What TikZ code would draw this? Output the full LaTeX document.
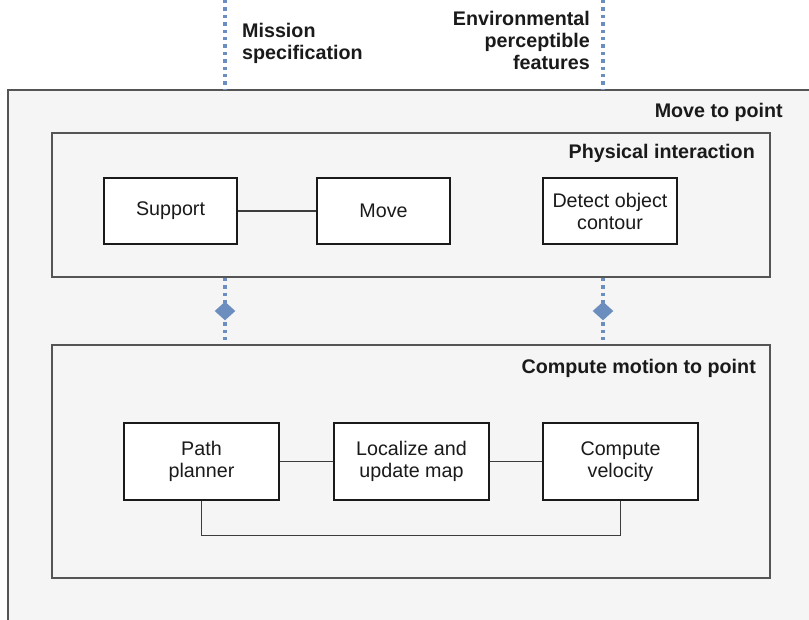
\documentclass[tikz,border=0pt]{standalone}
\usepackage{fontspec}
\setmainfont{Liberation Sans}
\usepackage{tikz}
\usetikzlibrary{positioning,shapes.geometric}

\definecolor{framegray}{HTML}{555555}
\definecolor{framefill}{HTML}{F5F5F5}
\definecolor{portblue}{HTML}{6C8EBF}
\definecolor{inkgray}{HTML}{1A1A1A}

\tikzset{
    layer/.style={draw=framegray,fill=framefill,line width=1.6pt,inner sep=0},
    task/.style={draw=inkgray,fill=white,line width=1.2pt,align=center,inner sep=0,
        text=inkgray},
    title/.style={font=\fontsize{19.7}{22}\selectfont\bfseries,anchor=east,inner sep=0,
        text=inkgray},
    link/.style={draw=inkgray!85,line width=1.2pt},
    portline/.style={draw=portblue,line width=3.4pt,dash pattern=on 3.4pt off 4pt},
    portmark/.style={diamond,fill=portblue,inner sep=0,minimum width=22pt,
        minimum height=20pt},
}

\begin{document}
\begin{tikzpicture}[x=1pt,y=-1pt,every node/.style={font=\fontsize{19.7}{22}\selectfont}]
    \useasboundingbox (0,0) rectangle (809,619);
    \clip (0,0) rectangle (809,619);
    \fill[white] (0,0) rectangle (809,619);

    \node[layer,minimum width=822pt,minimum height=550pt](movept) at (419,365) {};
    \node[layer,minimum width=718pt,minimum height=144pt](phys) at (411,205) {};
    \node[layer,minimum width=718pt,minimum height=233pt](cmp) at (411,461.5) {};

    \node[title](moveptt) at (783,112) {Move to point};
    \node[title](physt) at (755,153) {Physical interaction};
    \node[title](cmpt) at (756,368) {Compute motion to point};

    \node[task,minimum width=133pt,minimum height=66pt](support) at (170.5,211) {Support};
    \node[task,minimum width=133pt,minimum height=66pt](move) at (383.5,211) {Move};
    \node[task,minimum width=134pt,minimum height=66pt](detect) at (610,211)
        {Detect object\\contour};

    \node[task,minimum width=155pt,minimum height=77pt](path) at (201.5,461.5)
        {Path\\planner};
    \node[task,minimum width=155pt,minimum height=77pt](localize) at (411.5,461.5)
        {Localize and\\update map};
    \node[task,minimum width=155pt,minimum height=77pt](velocity) at (620.5,461.5)
        {Compute\\velocity};

    \draw[link] (support) -- (move);
    \draw[link] (path) -- (localize);
    \draw[link] (localize) -- (velocity);
    \draw[link] (path.south) -- ++(0,35) -| (velocity.south);

    \coordinate (mission) at (225,0);
    \coordinate (env) at (603,0);
    \draw[portline] (mission) -- (mission |- movept.north);
    \draw[portline] (env) -- (env |- movept.north);
    \draw[portline] (phys.south -| mission) -- (cmp.north -| mission)
        node[portmark,midway](missionport){};
    \draw[portline] (phys.south -| env) -- (cmp.north -| env)
        node[portmark,midway](envport){};

    \node[anchor=west,align=left,inner sep=0,text=inkgray,font=\fontsize{19.7}{22}\selectfont\bfseries]
        (missiont) at (242,43) {Mission\\specification};
    \node[anchor=east,align=right,inner sep=0,text=inkgray,font=\fontsize{19.7}{22}\selectfont\bfseries]
        (envt) at (590,40) {Environmental\\perceptible\\features};
\end{tikzpicture}
\end{document}
